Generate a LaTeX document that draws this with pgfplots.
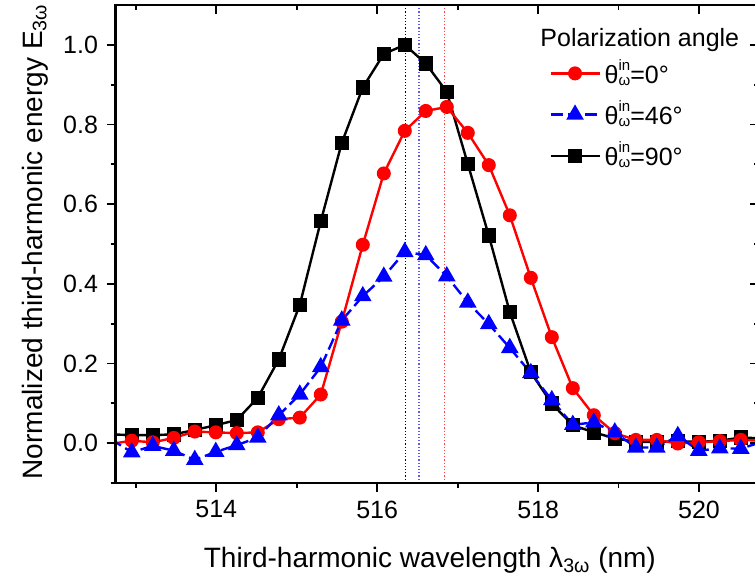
\documentclass[border=0pt]{standalone}
\usepackage{fontspec}
\setmainfont{Liberation Sans}
\usepackage{amsmath}
\usepackage{pgfplots}
\usepackage{pgfplotstable}
\pgfplotsset{compat=1.18}

\pgfplotstableread{
x       black  red     blue
512.689 0.022  -0.002  0.010
512.950 0.020  0.006   -0.023
513.211 0.020  0.002   -0.007
513.472 0.022  0.013   -0.019
513.733 0.033  0.029   -0.042
513.994 0.045  0.027   -0.022
514.255 0.058  0.025   -0.005
514.516 0.114  0.027   0.014
514.777 0.210  0.060   0.070
515.038 0.347  0.064   0.122
515.299 0.557  0.122   0.191
515.560 0.754  0.305   0.308
515.821 0.893  0.498   0.369
516.082 0.977  0.677   0.418
516.343 1.000  0.784   0.480
516.604 0.953  0.834   0.472
516.865 0.882  0.844   0.419
517.126 0.701  0.779   0.353
517.387 0.521  0.698   0.299
517.648 0.329  0.572   0.239
517.909 0.178  0.415   0.176
518.170 0.099  0.266   0.108
518.431 0.045  0.138   0.046
518.692 0.027  0.070   0.052
518.953 0.012  0.025   0.027
519.214 0.003  0.008   -0.011
519.475 0.003  0.008   -0.011
519.736 0.005  -0.001  0.018
519.997 0.003  0.002   -0.019
520.258 0.006  0.005   -0.013
520.519 0.014  0.008   -0.014
520.780 0.012  0.006   0.003
}\datatable

\newcommand{\thw}{θ\rlap{\raisebox{6.5pt}{\fontsize{7.5}{8}\selectfont in}}\raisebox{-1pt}{\fontsize{7.5}{8}\selectfont ω}}

\pgfplotsset{
  common/.style={
    width=321.9pt, height=239pt, scale only axis,
    xmin=512.75, xmax=520.75, ymin=-0.1, ymax=1.1,
    xtick={514,516,518,520}, minor xtick={513,515,517,519},
    ytick={0,0.2,0.4,0.6,0.8,1.0}, minor ytick={-0.1,0.1,0.3,0.5,0.7,0.9},
    major tick length=4.5pt, minor tick length=2.5pt,
    tick style={black, line width=0.9pt},
    axis line style={line width=1.2pt},
    /pgf/number format/assume math mode=true,
  },
}

\begin{document}
\fontsize{12.5}{15}\selectfont
\begin{tikzpicture}
\begin{axis}[common,
  tick align=outside, xtick pos=left, ytick pos=left,
  tick label style={font=\fontsize{12.5}{15}\selectfont},
  yticklabel style={/pgf/number format/.cd, fixed, fixed zerofill, precision=1},
  xticklabel style={/pgf/number format/.cd, fixed, precision=0, 1000 sep={}},
  label style={font=\fontsize{14}{17}\selectfont},
  xlabel={Third-harmonic wavelength λ$_{\text{3ω}}$ (nm)},
  ylabel={Normalized third-harmonic energy E$_{\text{3ω}}$},
  xlabel style={at={(axis description cs:0.488,0)}, anchor=base, yshift=-42.5pt},
  ylabel style={at={([xshift=-36.8pt]axis description cs:0,0.505)}, anchor=base},
  legend image code/.code={\draw[mark repeat=2, mark phase=2, #1] plot coordinates {(0pt,0pt) (12.25pt,0pt) (24.5pt,0pt)};},
  legend style={draw=none, fill=none, at={(axis cs:518.06,0.984)}, anchor=north west,
    font=\fontsize{12.5}{15}\selectfont, row sep=2.8pt,
    /tikz/every even column/.append style={column sep=2pt}},
  legend cell align=left,
]
\coordinate (SW) at (rel axis cs:0,0);
\coordinate (NE) at (rel axis cs:1,1);

\addplot[black, densely dotted, line width=0.6pt, forget plot] coordinates {(516.35,-0.1) (516.35,1.1)};
\addplot[blue!65!white, densely dotted, line width=0.6pt, forget plot] coordinates {(516.52,-0.1) (516.52,1.1)};
\addplot[red!75!white, densely dotted, line width=0.6pt, forget plot] coordinates {(516.835,-0.1) (516.835,1.1)};

\addplot[black, line width=1.2pt, mark=square*, mark size=3pt, forget plot] table[x=x, y=black] {\datatable};
\addplot[red, line width=1.2pt, mark=*, mark size=2.9pt, forget plot] table[x=x, y=red] {\datatable};
\addplot[blue, line width=1.2pt, dash pattern=on 6pt off 2.5pt, mark=triangle*, mark size=3.9pt, mark options={solid}, forget plot] table[x=x, y=blue] {\datatable};

\addlegendimage{red, line width=1.2pt, mark=*, mark size=2.9pt}
\addlegendentry{\thw=0°}
\addlegendimage{blue, line width=1.2pt, dash pattern=on 6pt off 2.5pt, mark=triangle*, mark size=3.9pt, mark options={solid}}
\addlegendentry{\thw=46°}
\addlegendimage{black, line width=1.2pt, mark=square*, mark size=3pt}
\addlegendentry{\thw=90°}

\node[anchor=base west, font=\fontsize{12.5}{15}\selectfont, inner sep=0pt] at (axis cs:518.024,0.996) {Polarization angle};
\end{axis}
\begin{axis}[common,
  tick align=inside, xtick pos=right, ytick pos=right,
  xticklabels={}, yticklabels={},
]
\end{axis}
\pgfresetboundingbox
\path[use as bounding box] ([shift={(-57.85pt,-50pt)}]SW) rectangle ([shift={(-2.2pt,2.5pt)}]NE);
\end{tikzpicture}
\end{document}
